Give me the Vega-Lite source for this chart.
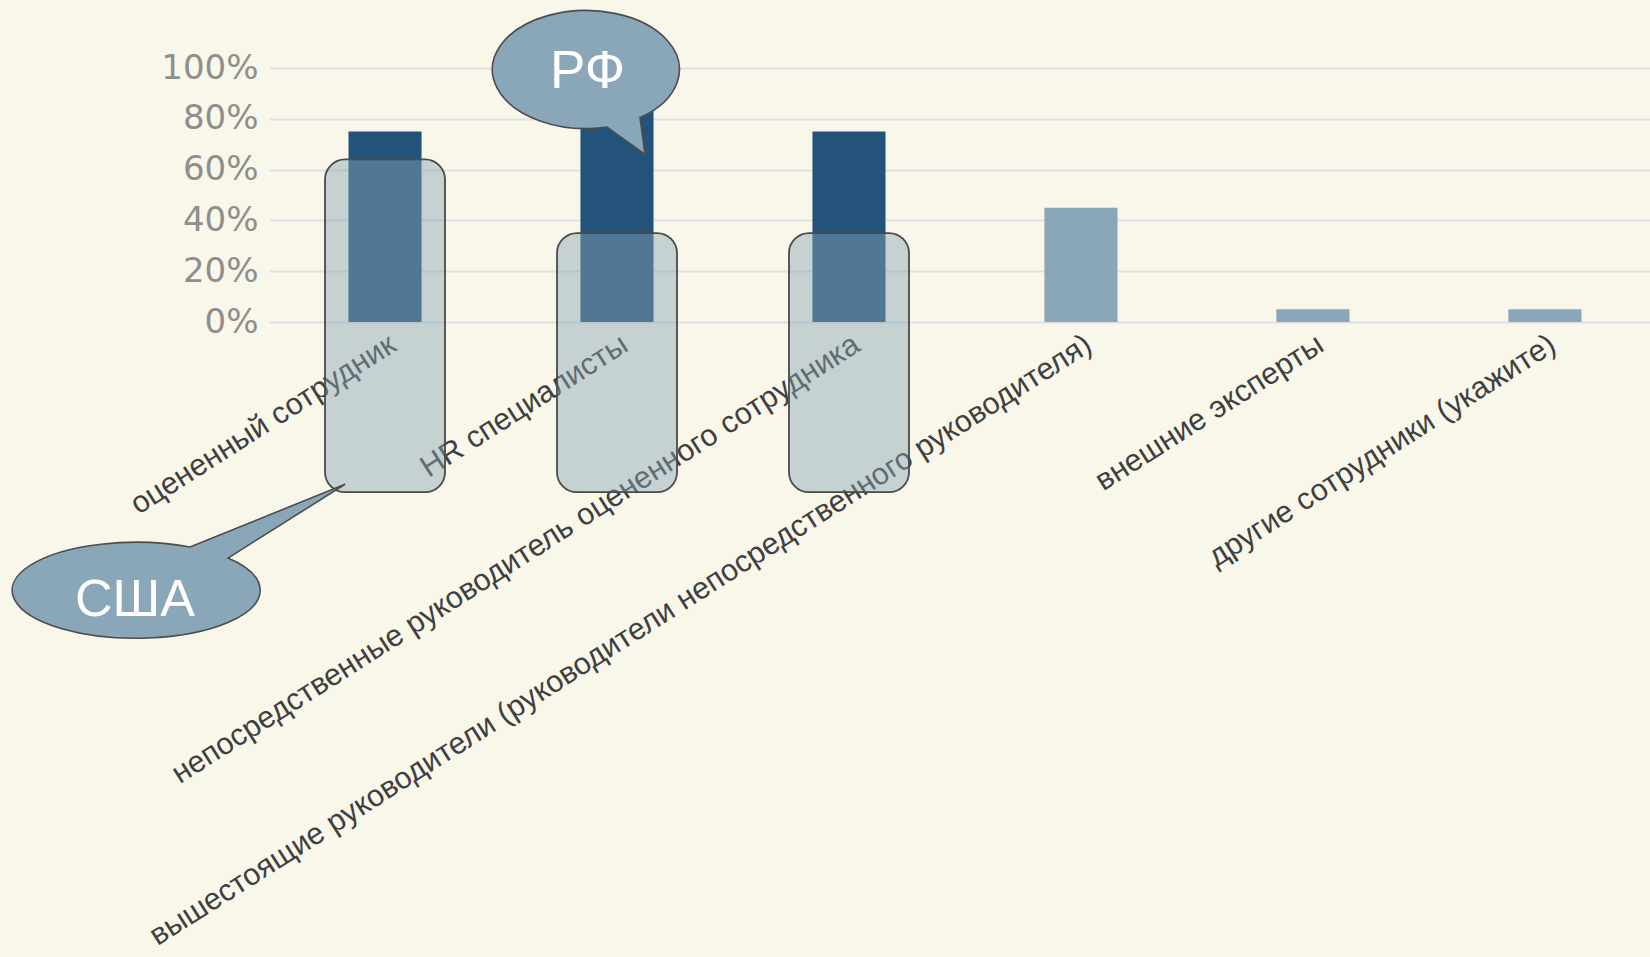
{
  "$schema": "https://vega.github.io/schema/vega-lite/v6.json",
  "autosize": {"type": "none"},
  "width": 1381,
  "height": 254,
  "padding": {"left": 269, "top": 68, "right": 0, "bottom": 635},
  "background": "#f9f6ea",
  "config": {
    "view": {"stroke": null},
    "axisY": {
      "grid": true, "gridColor": "#dfe0e5", "gridWidth": 2,
      "domain": false, "ticks": false,
      "labelFont": "DejaVu Sans", "labelFontSize": 34, "labelColor": "#8e8e8e",
      "labelPadding": 11, "values": [0, 0.2, 0.4, 0.6, 0.8, 1], "format": ".0%"
    },
    "axisX": {
      "grid": false, "domain": false, "ticks": false,
      "labelFont": "Liberation Sans", "labelFontSize": 30.5, "labelColor": "#3f3f3f",
      "labelAngle": -32.5, "labelAlign": "right", "labelBaseline": "top",
      "labelPadding": 7, "labelOffset": 0, "labelLimit": 0, "labelOverlap": false
    }
  },
  "datasets": {
    "main": [
      {"категория": "оцененный сотрудник", "РФ": 0.75, "США": 0.64, "группа": "выделено"},
      {"категория": "HR специалисты", "РФ": 0.9, "США": 0.35, "группа": "выделено"},
      {"категория": "непосредственные руководитель оцененного сотрудника", "РФ": 0.75, "США": 0.35, "группа": "выделено"},
      {"категория": "вышестоящие руководители (руководители непосредственного руководителя)", "РФ": 0.45, "США": null, "группа": "прочие"},
      {"категория": "внешние эксперты", "РФ": 0.05, "США": null, "группа": "прочие"},
      {"категория": "другие сотрудники (укажите)", "РФ": 0.05, "США": null, "группа": "прочие"}
    ],
    "notes": [
      {"метка": "РФ", "категория": "HR специалисты", "уровень": 1},
      {"метка": "США", "категория": "оцененный сотрудник", "уровень": 0}
    ]
  },
  "layer": [
    {
      "data": {"name": "main"},
      "mark": {"type": "bar"},
      "encoding": {
        "x": {
          "field": "категория", "type": "nominal", "title": null,
          "scale": {
            "domain": ["оцененный сотрудник", "HR специалисты", "непосредственные руководитель оцененного сотрудника", "вышестоящие руководители (руководители непосредственного руководителя)", "внешние эксперты", "другие сотрудники (укажите)"],
            "paddingInner": 0.685, "paddingOuter": 0.319, "align": 0.537
          }
        },
        "y": {"field": "РФ", "type": "quantitative", "title": null, "scale": {"domain": [0, 1], "nice": false}},
        "color": {"field": "группа", "type": "nominal", "legend": null, "scale": {"domain": ["выделено", "прочие"], "range": ["#23527a", "#8aa6b9"]}}
      }
    },
    {
      "data": {"name": "main"},
      "transform": [{"filter": "datum['США'] != null"}],
      "mark": {"type": "bar", "width": 120, "cornerRadius": 20, "fill": "#88a4b4", "fillOpacity": 0.45, "stroke": "#4a4a4a", "strokeWidth": 1.8},
      "encoding": {
        "x": {"field": "категория", "type": "nominal", "title": null},
        "y": {"field": "США", "type": "quantitative", "title": null},
        "y2": {"datum": -0.67}
      }
    },
    {
      "data": {"name": "notes"},
      "transform": [{"filter": "datum['метка'] == 'РФ'"}],
      "mark": {"type": "point", "filled": true, "size": 4, "opacity": 1, "fill": "#8aa6b9", "stroke": "#4d4d4d", "strokeWidth": 1.6,
        "shape": "M -10.3 59 L 28 86.3 L 23 49.6 A 93.5 59 0 1 0 -10.3 59 Z"},
      "encoding": {
        "x": {"field": "категория", "type": "nominal", "title": null},
        "y": {"field": "уровень", "type": "quantitative", "title": null}
      }
    },
    {
      "data": {"name": "notes"},
      "transform": [{"filter": "datum['метка'] == 'РФ'"}],
      "mark": {"type": "text", "font": "Liberation Sans", "fontSize": 53, "color": "#ffffff", "align": "center", "baseline": "middle", "dx": -29.5, "dy": 4},
      "encoding": {
        "x": {"field": "категория", "type": "nominal", "title": null},
        "y": {"field": "уровень", "type": "quantitative", "title": null},
        "text": {"field": "метка"}
      }
    },
    {
      "data": {"name": "notes"},
      "transform": [{"filter": "datum['метка'] == 'США'"}],
      "mark": {"type": "point", "filled": true, "size": 4, "opacity": 1, "fill": "#8aa6b9", "stroke": "#4d4d4d", "strokeWidth": 1.6,
        "shape": "M -195 225 L -40 162.3 L -157 236 A 124 48 0 1 1 -195 225 Z"},
      "encoding": {
        "x": {"field": "категория", "type": "nominal", "title": null},
        "y": {"field": "уровень", "type": "quantitative", "title": null}
      }
    },
    {
      "data": {"name": "notes"},
      "transform": [{"filter": "datum['метка'] == 'США'"}],
      "mark": {"type": "text", "font": "Liberation Sans", "fontSize": 52, "color": "#ffffff", "align": "center", "baseline": "middle", "dx": -250, "dy": 278},
      "encoding": {
        "x": {"field": "категория", "type": "nominal", "title": null},
        "y": {"field": "уровень", "type": "quantitative", "title": null},
        "text": {"field": "метка"}
      }
    }
  ]
}
